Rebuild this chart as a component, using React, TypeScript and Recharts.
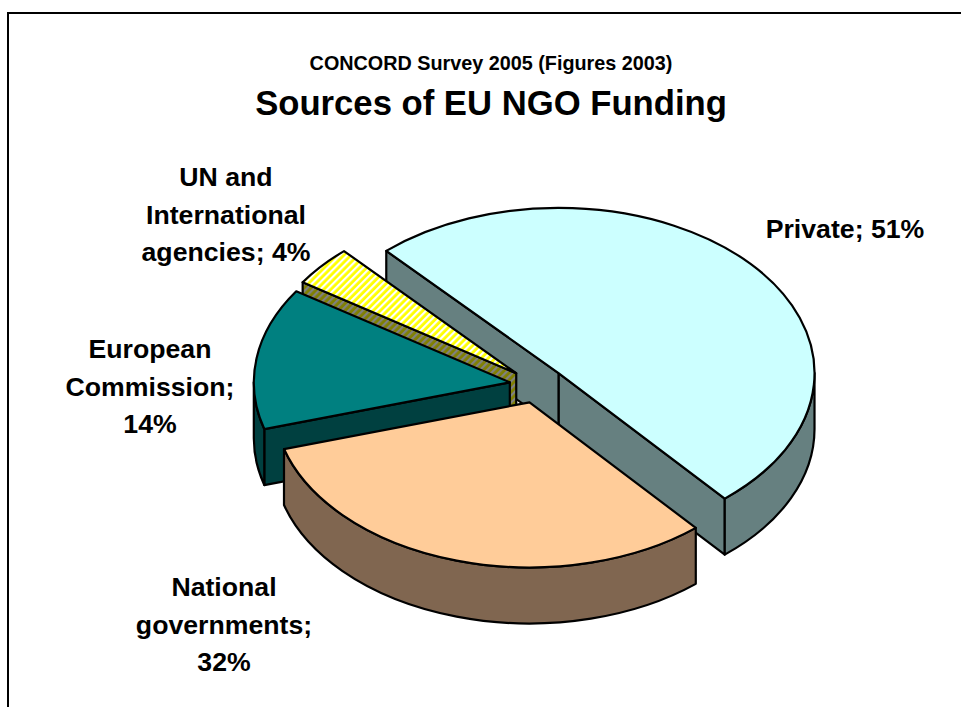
import React from "react";
import { PieChart, Pie } from "recharts";

// Funding shares in percent, listed counter-clockwise from the Private slice.
const sources = ["Private", "UN and International agencies", "European Commission", "National governments"];
const shares = [51, 4, 14, 32];
const topFills = ["#CCFFFF", "url(#hatchTop)", "#008080", "#FFCC99"];
const wallFills = ["#668080", "url(#hatchWall)", "#004040", "#806650"];
const labelLines = [
  ["Private; 51%"],
  ["UN and", "International", "agencies; 4%"],
  ["European", "Commission;", "14%"],
  ["National", "governments;", "32%"],
];
const labelCenters = [
  [845, 238],
  [226, 186],
  [150, 358],
  [224, 596],
];

const tableRows = sources.map((name, i) => ({ name, value: shares[i], top: topFills[i], wall: wallFills[i] }));

const WIDTH = 961;
const HEIGHT = 707;
const TILT = 0.645;
const DEPTH = 56;
const EXPLODE = 28;
const FONT = "'Liberation Sans', Arial, sans-serif";
const RAD = Math.PI / 180;

type Pt = [number, number];
const fmt = (p: Pt) => `${p[0].toFixed(2)} ${p[1].toFixed(2)}`;

// Draws one slice as an extruded, tilted wedge: cut faces first, then the rim, then the lid.
function Slice3D(props: any) {
  const { cx, cy, outerRadius: r, startAngle: a, endAngle: b, midAngle, payload } = props;
  const mid = midAngle ?? (a + b) / 2;
  const ox = cx + EXPLODE * Math.cos(mid * RAD);
  const oy = cy - EXPLODE * TILT * Math.sin(mid * RAD);
  const rim = (deg: number, drop = 0): Pt => [ox + r * Math.cos(deg * RAD), oy - r * TILT * Math.sin(deg * RAD) + drop];
  const apex: Pt = [ox, oy];
  const arc = (from: number, to: number, drop = 0) => {
    const large = Math.abs(to - from) > 180 ? 1 : 0;
    const sweep = to > from ? 0 : 1;
    return `A ${r} ${r * TILT} 0 ${large} ${sweep} ${fmt(rim(to, drop))}`;
  };
  const face = (deg: number) => {
    const t = rim(deg);
    return `M ${fmt(apex)} L ${fmt(t)} L ${t[0].toFixed(2)} ${(t[1] + DEPTH).toFixed(2)} L ${ox.toFixed(2)} ${(oy + DEPTH).toFixed(2)} Z`;
  };
  const fill = payload.wall ?? props.wall;
  const top = payload.top ?? props.top;
  const common = { stroke: "#000", strokeWidth: 2.2, strokeLinejoin: "round" as const };

  // The part of the rim facing the viewer lies where the sine of the angle is negative.
  const rims: Pt[] = [];
  for (const [lo, hi] of [[-180, 0], [180, 360]]) {
    const from = Math.max(a, lo);
    const to = Math.min(b, hi);
    if (to > from) rims.push([from, to]);
  }

  return (
    <g>
      <defs>
        <pattern id="hatchTop" width="5" height="5" patternUnits="userSpaceOnUse" patternTransform="rotate(45)">
          <rect width="5" height="5" fill="#FFFF00" />
          <rect width="2.2" height="5" fill="#FFFFFF" />
        </pattern>
        <pattern id="hatchWall" width="5" height="5" patternUnits="userSpaceOnUse" patternTransform="rotate(45)">
          <rect width="5" height="5" fill="#808000" />
          <rect width="2.2" height="5" fill="#808080" />
        </pattern>
      </defs>
      {Math.cos(a * RAD) > 0 && <path d={face(a)} fill={fill} {...common} />}
      {Math.cos(b * RAD) < 0 && <path d={face(b)} fill={fill} {...common} />}
      {rims.map(([from, to]) => (
        <path
          key={from}
          d={`M ${fmt(rim(from))} ${arc(from, to)} L ${fmt(rim(to, DEPTH))} ${arc(to, from, DEPTH)} Z`}
          fill={fill}
          {...common}
        />
      ))}
      <path d={`M ${fmt(apex)} L ${fmt(rim(a))} ${arc(a, b)} Z`} fill={top} {...common} />
    </g>
  );
}

function SliceLabel(props: any) {
  const { index } = props;
  const [x, y] = labelCenters[index];
  return (
    <text x={x} y={y} textAnchor="middle" fontFamily={FONT} fontWeight="bold" fontSize={26.67} fill="#000">
      {labelLines[index].map((line, i) => (
        <tspan key={line} x={x} dy={i === 0 ? 0 : 37.5}>
          {line}
        </tspan>
      ))}
    </text>
  );
}

export default function App() {
  return (
    <div style={{ position: "absolute", left: 0, top: 0, width: WIDTH, height: HEIGHT, overflow: "hidden", background: "#fff" }}>
      <PieChart width={WIDTH} height={HEIGHT} margin={{ top: 0, right: 0, bottom: 0, left: 0 }}>
        <path d={`M 8 ${HEIGHT} L 8 13 L ${WIDTH} 13`} fill="none" stroke="#000" strokeWidth={2} />
        <text x={491} y={69.5} textAnchor="middle" fontFamily={FONT} fontWeight="bold" fontSize={19.8} fill="#000">
          CONCORD Survey 2005 (Figures 2003)
        </text>
        <text x={491} y={115} textAnchor="middle" fontFamily={FONT} fontWeight="bold" fontSize={34.67} fill="#000">
          Sources of EU NGO Funding
        </text>
        <Pie
          data={tableRows}
          dataKey="value"
          nameKey="name"
          cx={537.5}
          cy={385}
          innerRadius={0}
          outerRadius={256}
          startAngle={-49.5}
          endAngle={310.5}
          paddingAngle={0}
          isAnimationActive={false}
          shape={Slice3D}
          label={SliceLabel}
          labelLine={false}
          rootTabIndex={-1}
        />
      </PieChart>
    </div>
  );
}
